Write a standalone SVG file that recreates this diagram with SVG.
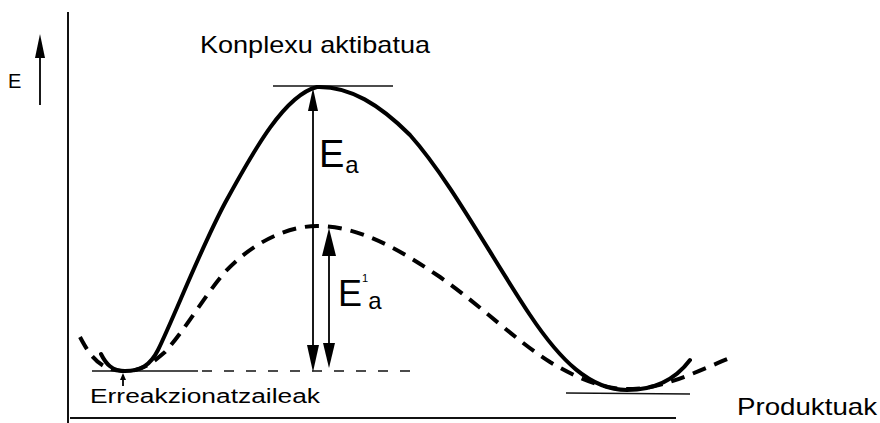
<svg xmlns="http://www.w3.org/2000/svg" width="880" height="423" viewBox="0 0 880 423">
<style>
.t{font-family:"Liberation Sans",Arial,sans-serif;fill:#000}
.ax{stroke:#111;stroke-width:2;fill:none}
.lv{stroke:#111;stroke-width:1.6;fill:none}
.solid{stroke:#000;stroke-width:4;fill:none;stroke-linecap:round}
.dash{stroke:#000;stroke-width:4;fill:none;stroke-dasharray:14 9}
.ar{stroke:#000;stroke-width:1.8;fill:none}
.hd{fill:#000}
</style>
<rect width="880" height="423" fill="#fff"/>
<g id="axes">
<line class="ax" x1="68" y1="12" x2="68" y2="423"/>
<line class="ax" x1="70" y1="418" x2="676" y2="418"/>
<line class="ar" x1="40" y1="105" x2="40" y2="50"/>
<polygon class="hd" points="40,34 35,58 45,58"/>
<text class="t" x="8" y="88" font-size="20">E</text>
</g>
<g id="levels">
<line class="lv" x1="273" y1="86" x2="393" y2="86"/>
<line class="lv" x1="92" y1="371" x2="198" y2="371"/>
<line class="lv" x1="202" y1="371" x2="420" y2="371" stroke-dasharray="10 12"/>
<line class="lv" x1="566" y1="393" x2="690" y2="394"/>
</g>
<g id="curves">
<path class="solid" d="M101,354 C106,364 112,371 125,371 C140,371 150,366 158,350 C175,315 200,250 225,203 C255,148 285,95 317,87 C350,86 380,105 410,135 C450,180 490,255 530,315 C560,360 590,390 627,390 C655,390 675,380 690,360"/>
<path class="dash" d="M80,337 C88,352 98,370 122,371 C140,372 150,365 165,352 C185,330 205,295 225,272 C250,245 285,226 317,226 C360,226 400,250 440,277 C480,305 515,340 550,362 C580,380 605,390 633,389 C665,388 700,370 730,358"/>
</g>
<g id="connectors">
<line class="ar" x1="313" y1="100" x2="313" y2="355"/>
<polygon class="hd" points="313,88 308,111 318,111"/>
<polygon class="hd" points="313,372 307,345 319,345"/>
<line class="ar" x1="329" y1="245" x2="329" y2="355"/>
<polygon class="hd" points="329,228 322,256 336,256"/>
<polygon class="hd" points="329,368 323,343 335,343"/>
<line class="ar" x1="123" y1="386" x2="123" y2="378"/>
<polygon class="hd" points="123,373 120,380 126,380"/>
</g>
<g id="labels">
<text class="t" x="200" y="53" font-size="24" textLength="230" lengthAdjust="spacingAndGlyphs">Konplexu aktibatua</text>
<text class="t" x="319" y="167" font-size="38">E<tspan font-size="24" dx="1" dy="6">a</tspan></text>
<text class="t" x="338" y="306" font-size="36">E<tspan font-size="11" dy="-24">1</tspan><tspan font-size="24" dy="27">a</tspan></text>
<text class="t" x="90" y="403" font-size="20" textLength="230" lengthAdjust="spacingAndGlyphs">Erreakzionatzaileak</text>
<text class="t" x="737" y="415" font-size="24" textLength="140" lengthAdjust="spacingAndGlyphs">Produktuak</text>
</g>
</svg>
